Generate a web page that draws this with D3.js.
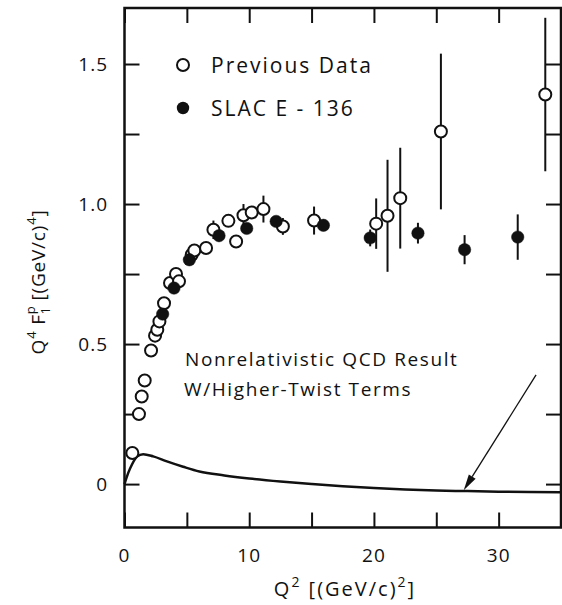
<!DOCTYPE html>
<html>
<head>
<meta charset="utf-8">
<script src="https://cdn.jsdelivr.net/npm/d3@7"></script>
<style>
  html, body { margin: 0; padding: 0; background: #fff; }
  svg { display: block; }
  text { font-family: "Open Sans", "DejaVu Sans", sans-serif; fill: #111; }
</style>
</head>
<body>
<svg id="chart" width="562" height="605"></svg>
<script>
// Previous measurements: Q^2, Q^4 F1p, error
const prevQ2  = [0.63, 1.16, 1.38, 1.62, 2.13, 2.45, 2.63, 2.80, 3.17, 3.65, 4.13, 4.37, 5.39, 5.60, 6.54, 7.13, 8.33, 8.95, 9.54, 10.2, 11.14, 12.7, 15.2, 20.18, 21.09, 22.11, 25.37, 33.74];
const prevVal = [0.111, 0.250, 0.313, 0.370, 0.477, 0.530, 0.551, 0.581, 0.646, 0.718, 0.750, 0.724, 0.819, 0.834, 0.843, 0.908, 0.940, 0.866, 0.960, 0.970, 0.982, 0.920, 0.941, 0.930, 0.958, 1.021, 1.259, 1.391];
const prevErr = [0, 0, 0, 0, 0, 0, 0, 0, 0, 0, 0, 0, 0, 0.02, 0, 0.033, 0, 0, 0.04, 0, 0.048, 0.03, 0.05, 0.09, 0.20, 0.18, 0.278, 0.274];

// SLAC E-136 measurements
const slacQ2  = [3.06, 3.97, 5.20, 7.58, 9.80, 12.16, 15.95, 19.70, 23.53, 27.27, 31.53];
const slacVal = [0.607, 0.700, 0.801, 0.887, 0.913, 0.938, 0.924, 0.879, 0.896, 0.837, 0.882];
const slacErr = [0, 0, 0.02, 0, 0, 0.015, 0.015, 0.03, 0.037, 0.052, 0.081];

// Nonrelativistic QCD prediction with higher-twist terms
const qcdQ2  = [0, 0.3, 0.6, 1.0, 1.5, 2.3, 3.4, 4.7, 6, 8, 10, 12.5, 15, 17.5, 20, 22.5, 25, 27.5, 30, 32.5, 35];
const qcdVal = [0, 0.040, 0.070, 0.098, 0.107, 0.099, 0.081, 0.062, 0.045, 0.031, 0.020, 0.009, 0.0, -0.008, -0.014, -0.019, -0.023, -0.025, -0.027, -0.028, -0.029];

const xTicks = [0, 5, 10, 15, 20, 25, 30, 35];
const xTickLabels = [0, 10, 20, 30];
const yTicks = [0, 0.25, 0.5, 0.75, 1.0, 1.25, 1.5];
const yTickLabels = [0, 0.5, 1.0, 1.5];

// Arrow from the annotation down to the curve (data coordinates)
const arrowFrom = [33.0, 0.39];
const arrowTo   = [27.2, -0.022];

const svg = d3.select("#chart");
const x = d3.scaleLinear().domain([0, 35]).range([124.5, 561]);
const y = d3.scaleLinear().domain([-0.155, 1.70]).range([527.5, 8]);
const ink = "#111";
const tickLen = 15;

// Inward ticks on all four sides
const axes = svg.append("g");
axes.append("g").attr("transform", `translate(0,${y.range()[0]})`)
  .call(d3.axisTop(x).tickValues(xTicks).tickSize(tickLen).tickFormat(""));
axes.append("g").attr("transform", `translate(0,${y.range()[1]})`)
  .call(d3.axisBottom(x).tickValues(xTicks).tickSize(tickLen).tickFormat(""));
axes.append("g").attr("transform", `translate(${x.range()[0]},0)`)
  .call(d3.axisRight(y).tickValues(yTicks).tickSize(tickLen).tickFormat(""));
axes.append("g").attr("transform", `translate(${x.range()[1]},0)`)
  .call(d3.axisLeft(y).tickValues(yTicks).tickSize(tickLen).tickFormat(""));
axes.selectAll(".domain").remove();
axes.selectAll(".tick line").attr("stroke", ink).attr("stroke-width", 2);

// Frame
svg.append("rect")
  .attr("x", x.range()[0]).attr("y", y.range()[1])
  .attr("width", x.range()[1] - x.range()[0])
  .attr("height", y.range()[0] - y.range()[1])
  .attr("fill", "none").attr("stroke", ink).attr("stroke-width", 2.5);

// Tick labels
svg.append("g").selectAll("text").data(xTickLabels).join("text")
  .attr("x", d => x(d)).attr("y", 562)
  .attr("text-anchor", "middle").attr("font-size", 19)
  .attr("letter-spacing", 1)
  .text(d => d);
svg.append("g").selectAll("text").data(yTickLabels).join("text")
  .attr("x", 108).attr("y", d => y(d) + 7)
  .attr("text-anchor", "end").attr("font-size", 19)
  .attr("letter-spacing", 1)
  .text(d => d === 0 ? "0" : d.toFixed(1));

// Axis titles
const xt = svg.append("text").attr("x", 345).attr("y", 596)
  .attr("text-anchor", "middle").attr("font-size", 20).attr("letter-spacing", 2);
xt.append("tspan").text("Q");
xt.append("tspan").attr("dy", -9).attr("font-size", 14).text("2");
xt.append("tspan").attr("dy", 9).text("  [(GeV/c)");
xt.append("tspan").attr("dy", -9).attr("font-size", 14).text("2");
xt.append("tspan").attr("dy", 9).text("]");

const yt = svg.append("text")
  .attr("transform", "translate(45,282) rotate(-90)")
  .attr("text-anchor", "middle").attr("font-size", 19).attr("letter-spacing", 0.8);
yt.append("tspan").text("Q");
yt.append("tspan").attr("dy", -9).attr("font-size", 13).text("4");
yt.append("tspan").attr("dy", 9).text(" F");
yt.append("tspan").attr("dy", -10).attr("font-size", 13).text("p");
yt.append("tspan").attr("dx", -9).attr("dy", 15).attr("font-size", 13).text("1");
yt.append("tspan").attr("dy", -5).text("  [(GeV/c)");
yt.append("tspan").attr("dy", -9).attr("font-size", 13).text("4");
yt.append("tspan").attr("dy", 9).text("]");

// Theory curve
svg.append("path")
  .datum(qcdQ2.map((q, i) => [q, qcdVal[i]]))
  .attr("fill", "none").attr("stroke", ink).attr("stroke-width", 2.5)
  .attr("d", d3.line().x(d => x(d[0])).y(d => y(d[1])).curve(d3.curveMonotoneX));

// Annotation text and arrow
svg.append("text").attr("x", 185).attr("y", 366).attr("font-size", 19)
  .attr("letter-spacing", 1.6).text("Nonrelativistic QCD Result");
svg.append("text").attr("x", 184).attr("y", 396).attr("font-size", 19)
  .attr("letter-spacing", 1.6).text("W/Higher-Twist Terms");

const ax0 = x(arrowFrom[0]), ay0 = y(arrowFrom[1]);
const ax1 = x(arrowTo[0]), ay1 = y(arrowTo[1]);
const ang = Math.atan2(ay1 - ay0, ax1 - ax0);
const headLen = 16, headHalf = 4;
const bx = ax1 - headLen * Math.cos(ang), by = ay1 - headLen * Math.sin(ang);
svg.append("line").attr("x1", ax0).attr("y1", ay0).attr("x2", bx).attr("y2", by)
  .attr("stroke", ink).attr("stroke-width", 1.3);
svg.append("path")
  .attr("d", `M${ax1},${ay1}L${bx + headHalf * Math.sin(ang)},${by - headHalf * Math.cos(ang)}L${bx - headHalf * Math.sin(ang)},${by + headHalf * Math.cos(ang)}Z`)
  .attr("fill", ink);

// Data points with error bars
function drawSeries(qs, vals, errs, filled) {
  const data = qs.map((q, i) => ({ q, v: vals[i], e: errs[i] }));
  const g = svg.append("g");
  g.selectAll("line").data(data.filter(d => d.e > 0)).join("line")
    .attr("x1", d => x(d.q)).attr("x2", d => x(d.q))
    .attr("y1", d => y(d.v - d.e)).attr("y2", d => y(d.v + d.e))
    .attr("stroke", ink).attr("stroke-width", 2);
  g.selectAll("circle").data(data).join("circle")
    .attr("cx", d => x(d.q)).attr("cy", d => y(d.v)).attr("r", filled ? 6.2 : 6)
    .attr("fill", filled ? ink : "#fff").attr("stroke", ink).attr("stroke-width", filled ? 0.5 : 2);
}
drawSeries(prevQ2, prevVal, prevErr, false);
drawSeries(slacQ2, slacVal, slacErr, true);

// Legend
const legend = svg.append("g");
legend.append("circle").attr("cx", 183).attr("cy", 65).attr("r", 6)
  .attr("fill", "#fff").attr("stroke", ink).attr("stroke-width", 2);
legend.append("text").attr("x", 211).attr("y", 73).attr("font-size", 21)
  .attr("letter-spacing", 2).text("Previous Data");
legend.append("circle").attr("cx", 183).attr("cy", 108).attr("r", 6.2).attr("fill", ink);
legend.append("text").attr("x", 211).attr("y", 116).attr("font-size", 21)
  .attr("letter-spacing", 2).text("SLAC E - 136");
</script>
</body>
</html>
